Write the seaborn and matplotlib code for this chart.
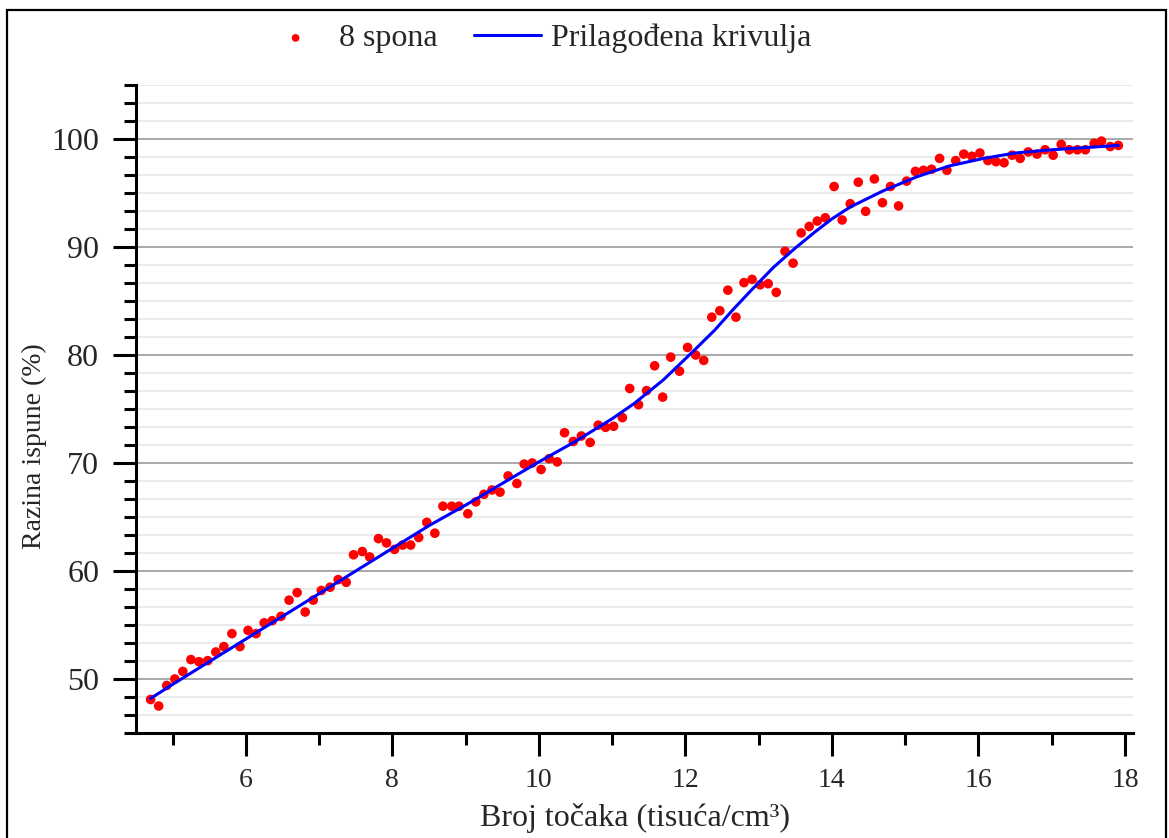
import numpy as np
import pandas as pd
import matplotlib
matplotlib.use("Agg")
import matplotlib.pyplot as plt
from matplotlib.ticker import MultipleLocator
from matplotlib.patches import Rectangle
import seaborn as sns

# measured points (8 spona)
broj_x = [4.70, 4.81, 4.92, 5.03, 5.14, 5.25, 5.36, 5.48, 5.59, 5.70,
          5.81, 5.92, 6.03, 6.14, 6.25, 6.36, 6.48, 6.59, 6.70, 6.81,
          6.92, 7.03, 7.15, 7.26, 7.37, 7.47, 7.59, 7.69, 7.81, 7.92,
          8.03, 8.14, 8.25, 8.36, 8.47, 8.58, 8.69, 8.81, 8.91, 9.03,
          9.14, 9.25, 9.36, 9.47, 9.58, 9.70, 9.80, 9.91, 10.03, 10.14,
          10.25, 10.35, 10.47, 10.58, 10.70, 10.81, 10.91, 11.02, 11.14, 11.24,
          11.36, 11.47, 11.58, 11.69, 11.80, 11.92, 12.03, 12.14, 12.25, 12.36,
          12.47, 12.58, 12.69, 12.80, 12.91, 13.02, 13.13, 13.24, 13.36, 13.47,
          13.58, 13.69, 13.80, 13.91, 14.03, 14.14, 14.25, 14.36, 14.46, 14.58,
          14.69, 14.80, 14.91, 15.02, 15.14, 15.25, 15.36, 15.47, 15.57, 15.69,
          15.80, 15.91, 16.02, 16.13, 16.24, 16.35, 16.46, 16.57, 16.68, 16.80,
          16.91, 17.02, 17.13, 17.24, 17.35, 17.46, 17.58, 17.68, 17.80, 17.91]
ispuna = [48.1, 47.5, 49.4, 50.0, 50.7, 51.8, 51.6, 51.7, 52.5, 53.0,
          54.2, 53.0, 54.5, 54.2, 55.2, 55.4, 55.8, 57.3, 58.0, 56.2,
          57.3, 58.2, 58.5, 59.2, 58.95, 61.5, 61.8, 61.3, 63.0, 62.6,
          62.0, 62.4, 62.4, 63.1, 64.5, 63.5, 66.0, 66.0, 66.0, 65.3,
          66.4, 67.1, 67.5, 67.3, 68.8, 68.1, 69.9, 70.0, 69.4, 70.4,
          70.1, 72.8, 72.0, 72.5, 71.9, 73.5, 73.3, 73.4, 74.2, 76.9,
          75.4, 76.7, 79.0, 76.1, 79.8, 78.5, 80.7, 80.0, 79.5, 83.5,
          84.1, 86.0, 83.5, 86.7, 87.0, 86.5, 86.6, 85.8, 89.6, 88.5,
          91.3, 91.9, 92.4, 92.7, 95.6, 92.5, 94.0, 96.0, 93.3, 96.3,
          94.1, 95.6, 93.8, 96.1, 97.0, 97.1, 97.2, 98.2, 97.1, 98.0,
          98.6, 98.4, 98.7, 98.0, 97.9, 97.8, 98.5, 98.2, 98.8, 98.6,
          99.0, 98.5, 99.5, 99.0, 99.0, 99.0, 99.6, 99.8, 99.3, 99.4]

# fitted curve
krivulja_x = [4.70, 5.0, 5.5, 6.0, 6.5, 7.0, 7.5, 8.0, 8.5, 9.0, 9.5, 10.0,
              10.5, 11.0, 11.3, 11.7, 12.1, 12.4, 12.65, 12.9, 13.2, 13.5,
              13.77, 14.0, 14.25, 14.7, 15.16, 15.6, 16.07, 16.5, 17.0, 17.45, 17.91]
krivulja_y = [48.2, 49.5, 51.6, 53.7, 55.8, 57.9, 60.0, 62.1, 64.2, 66.1, 68.1, 70.1,
              72.0, 74.1, 75.5, 77.7, 80.3, 82.3, 84.2, 86.0, 88.1, 89.9,
              91.4, 92.6, 93.7, 95.2, 96.5, 97.5, 98.2, 98.7, 99.0, 99.2, 99.4]

sns.set_style("white")
plt.rcParams['font.family'] = ['Liberation Serif', 'DejaVu Serif']

df = pd.DataFrame({'x': broj_x, 'y': ispuna})
fit = pd.DataFrame({'x': krivulja_x, 'y': krivulja_y})

fig = plt.figure(figsize=(11.69, 8.38), dpi=100)
ax = fig.add_axes([0.1163, 0.1253, 0.8529, 0.7733])

sns.scatterplot(data=df, x='x', y='y', color='red', s=48, edgecolor='none',
                label='8 spona', ax=ax, zorder=3)
sns.lineplot(data=fit, x='x', y='y', color='#0000ff', lw=2.2, sort=False,
             estimator=None, label='Prilagođena krivulja', ax=ax, zorder=4)

ax.set_xlim(4.5, 18.11)
ax.set_ylim(45, 105)
ax.xaxis.set_major_locator(MultipleLocator(2))
ax.xaxis.set_minor_locator(MultipleLocator(1))
ax.yaxis.set_major_locator(MultipleLocator(10))
ax.yaxis.set_minor_locator(MultipleLocator(10 / 6))

ax.set_axisbelow(True)
ax.yaxis.grid(True, which='major', color='#9a9a9a', lw=1.2)
ax.yaxis.grid(True, which='minor', color='#e6e6e6', lw=1.2)
ax.xaxis.grid(False)

for s in ['top', 'right']:
    ax.spines[s].set_visible(False)
for s in ['left', 'bottom']:
    ax.spines[s].set_color('black')
    ax.spines[s].set_linewidth(2.2)

ax.tick_params(which='major', direction='out', length=16.5, width=2.2, color='black')
ax.tick_params(which='minor', direction='out', length=8.5, width=2.2, color='black')
ax.tick_params(axis='y', which='major', labelsize=23, pad=10)
ax.tick_params(axis='x', which='major', labelsize=20, pad=9)
ax.tick_params(left=True, bottom=True, which='both')

ax.set_xlabel('Broj točaka (tisuća/cm³)', fontsize=23)
ax.set_ylabel('Razina ispune (%)', fontsize=20)
ax.xaxis.set_label_coords(0.5005, -0.108)
ax.yaxis.set_label_coords(-0.089, 0.443)

handles, labels = ax.get_legend_handles_labels()
ax.legend_.remove()
fig.legend(handles, labels, loc='center', bbox_to_anchor=(0.459, 0.954), ncol=2,
           frameon=False, fontsize=23, handlelength=2.1, handletextpad=0.3,
           columnspacing=1.15, markerscale=0.8)

fig.add_artist(Rectangle((7 / 1169, -0.1), 1159 / 1169, 1.088, transform=fig.transFigure,
                         fill=False, edgecolor='black', lw=1.6))

fig.savefig('out.png', dpi=100)
